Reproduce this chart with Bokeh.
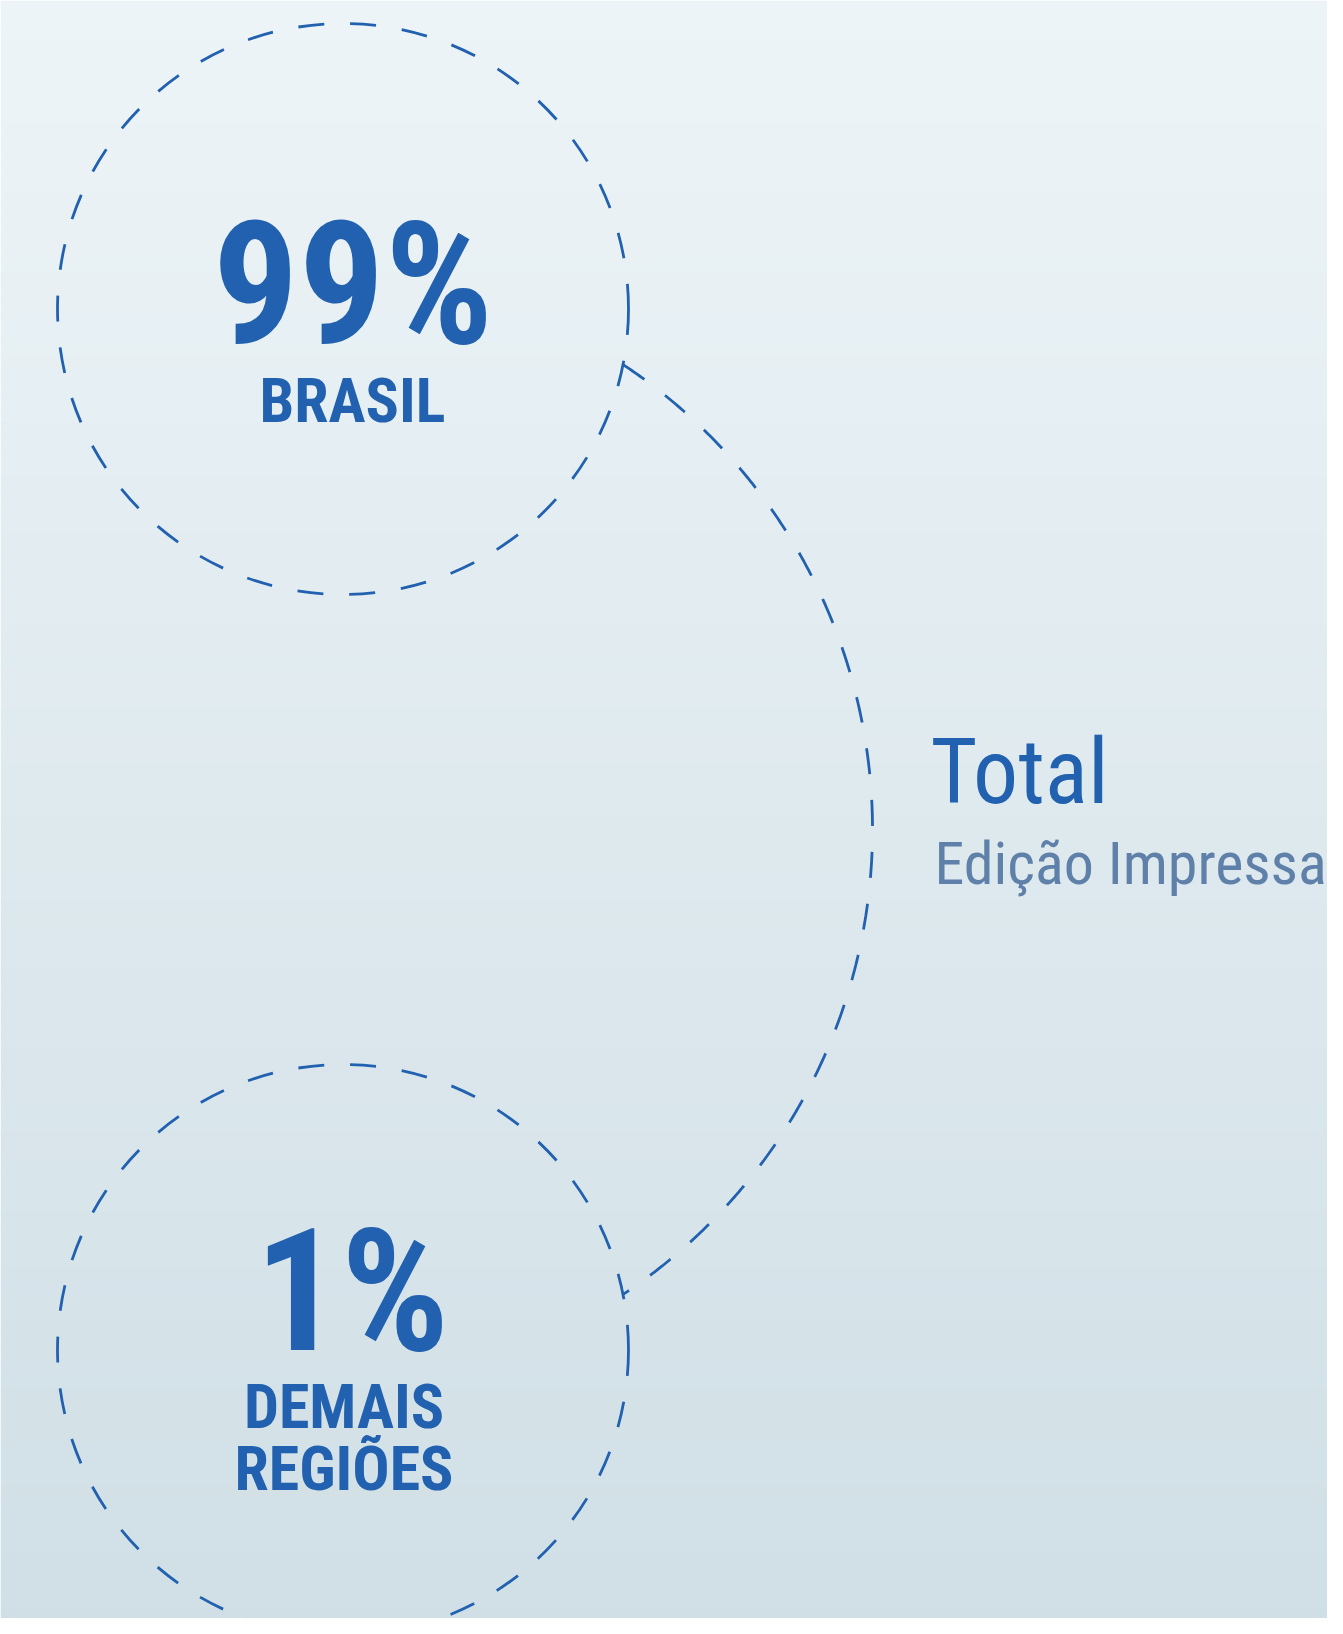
import numpy as np
from bokeh.plotting import figure
from bokeh.embed import file_html
from bokeh.resources import INLINE
from bokeh.core.properties import value

# ---- data ----
shares = [99, 1]
share_labels = ["99%", "1%"]
region_labels = [["BRASIL"], ["DEMAIS", "REGIÕES"]]
title_text = "Total"
subtitle_text = "Edição Impressa"

# ---- layout / style (reference pixel space) ----
W, H = 1327, 1618
BLUE = "#2161AF"
GREY_BLUE = "#5F80A8"
FONT = "Roboto Condensed"
small_centers = [(342.5, 308.5), (342.5, 1349.5)]
small_r = 285.5
big_center = (314.0, 829.0)
big_r = 558.0
DASH = "26 26"
LW = 2.8

p = figure(width=W, height=H, x_range=(0, W), y_range=(H, 0),
           output_backend="svg", toolbar_location=None, min_border=0)
p.axis.visible = False
p.grid.visible = False
p.outline_line_color = None
p.border_fill_color = "#EDF4F7"

# background vertical gradient
top_rgb = np.array([237, 244, 247])
bot_rgb = np.array([208, 223, 230])
n = 120
edges = np.linspace(0, 1634, n + 1)
cols = []
for i in range(n):
    t = (i + 0.5) / n
    c = (top_rgb * (1 - t) + bot_rgb * t).round().astype(int)
    cols.append("#%02x%02x%02x" % tuple(c))
p.quad(left=0, right=1343, top=edges[:-1], bottom=edges[1:] + 1.5,
       fill_color=cols, line_color=None)

# small dashed circles
p.circle(x=[c[0] for c in small_centers], y=[c[1] for c in small_centers],
         radius=small_r, fill_color=None, line_color=BLUE,
         line_width=LW, line_dash=DASH)

# big connecting arc between the two small circles
def intersect(c0, r0, c1, r1):
    c0 = np.array(c0); c1 = np.array(c1)
    d = np.linalg.norm(c1 - c0)
    a = (r0**2 - r1**2 + d**2) / (2 * d)
    h = np.sqrt(r0**2 - a**2)
    u = (c1 - c0) / d
    perp = np.array([-u[1], u[0]])
    return c0 + a * u + h * perp, c0 + a * u - h * perp

pts_top = intersect(big_center, big_r, small_centers[0], small_r)
pts_bot = intersect(big_center, big_r, small_centers[1], small_r)
p_top = max(pts_top, key=lambda q: q[0])
p_bot = max(pts_bot, key=lambda q: q[0])
a0 = np.arctan2(p_top[1] - big_center[1], p_top[0] - big_center[0])
a1 = np.arctan2(p_bot[1] - big_center[1], p_bot[0] - big_center[0])
ang = np.linspace(a0, a1, 400)
p.line(x=big_center[0] + big_r * np.cos(ang), y=big_center[1] + big_r * np.sin(ang),
       line_color=BLUE, line_width=LW, line_dash=DASH)

def label(x, baseline, txt, size, color=BLUE, bold=True, align="center"):
    y = baseline - 0.309 * size - 5
    p.text(x=[x], y=[y], text=[txt], text_font=value(FONT),
           text_font_size=f"{size}px", text_font_style="bold" if bold else "normal",
           text_color=color, text_align=align, text_baseline="alphabetic")

# percentages
pct_pos = [(352.5, 342), (351.5, 1349)]
for lab, (x, y) in zip(share_labels, pct_pos):
    label(x, y, lab, 170)

# region labels
region_pos = [[(352, 424)], [(343.5, 1430.5), (343.5, 1492.5)]]
for labs, poss in zip(region_labels, region_pos):
    for lab, (x, y) in zip(labs, poss):
        label(x, y, lab, 62)

# title on the right
label(930, 805, title_text, 90, bold=False, align="left")
label(934, 887, subtitle_text, 60, color=GREY_BLUE, bold=False, align="left")

open("out.html", "w").write(file_html(p, INLINE))
